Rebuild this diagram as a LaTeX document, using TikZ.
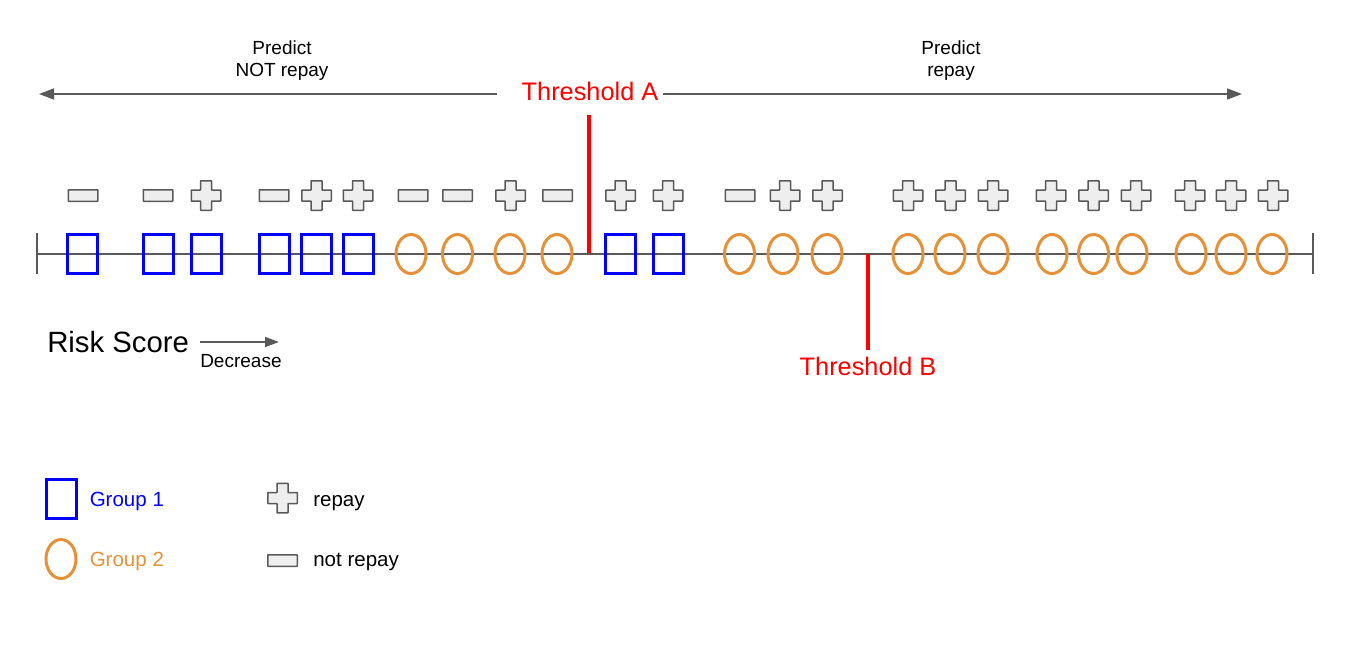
\documentclass[tikz,border=0pt]{standalone}
\usepackage{fontspec}
\setmainfont{Liberation Sans}
\usetikzlibrary{shapes.geometric,arrows.meta}
\newlength\px \setlength\px{0.75pt}
\definecolor{gline}{HTML}{595959}
\definecolor{gfill}{HTML}{EEEEEE}
\definecolor{grpblue}{HTML}{0000FF}
\definecolor{grporange}{HTML}{E69138}
\definecolor{thred}{HTML}{FF0000}
\begin{document}
\begin{tikzpicture}[x=0.75pt,y=-0.75pt,
  sqbox/.style={draw=grpblue,line width=3\px,minimum width=30\px,minimum height=39\px,inner sep=0pt},
  ovbox/.style={ellipse,draw=grporange,line width=3\px,minimum width=30\px,minimum height=39\px,inner sep=0pt},
  notrep/.style={draw=gline,fill=gfill,line width=1.5\px,minimum width=29.5\px,minimum height=11.5\px,inner sep=0pt,rounded corners=0.5\px},
  rep/.pic={\draw[draw=gline,fill=gfill,line width=1.5\px,rounded corners=0.5\px]
     (-14.75,-5.5)--(-5.5,-5.5)--(-5.5,-14.75)--(5.5,-14.75)--(5.5,-5.5)--(14.75,-5.5)
     --(14.75,5.5)--(5.5,5.5)--(5.5,14.75)--(-5.5,14.75)--(-5.5,5.5)--(-14.75,5.5)--cycle;},
  axis/.style={draw=gline,line width=2\px},
  arrowline/.style={draw=gline,line width=1.5\px,-{Triangle[length=11.25pt,width=8.25pt]}},
  thline/.style={draw=thred,line width=4\px},
  thtext/.style={text=thred,font=\fontsize{19}{23}\selectfont,inner sep=0pt},
  lbl/.style={font=\fontsize{14.25}{16.5}\selectfont,align=center,inner sep=0pt},
  legtext/.style={font=\fontsize{15.4}{18}\selectfont,inner sep=0pt,anchor=base west}
]
\useasboundingbox (0,0) rectangle (1359,649);

% axis
\coordinate (axL) at (37,254);
\coordinate (axR) at (1313,254);
\draw[axis] (axL) -- (axR);
\draw[axis] ([yshift=21\px]axL) -- ([yshift=-20\px]axL);
\draw[axis] ([yshift=21\px]axR) -- ([yshift=-20\px]axR);

% groups on the axis
\foreach \x/\k [count=\i] in {82/sqbox,158/sqbox,206/sqbox,274/sqbox,316/sqbox,358/sqbox,
   411/ovbox,457.5/ovbox,510/ovbox,557/ovbox,620.5/sqbox,668/sqbox,
   739.5/ovbox,783/ovbox,827/ovbox,908/ovbox,950/ovbox,993/ovbox,
   1052/ovbox,1093.5/ovbox,1132/ovbox,1191/ovbox,1231/ovbox,1272/ovbox}
  \node[\k] (g\i) at (\x,254) {};

% outcome symbols
\foreach \x [count=\i] in {83,158,274,413,457.5,557.5,740}
  \node[notrep] (m\i) at (\x,195.5) {};
\foreach \x [count=\i] in {206,316.5,358,510.5,620.5,668,785,827.5,908,950.5,993,1051,1093.5,1136,1190,1231,1273}
  \pic (p\i) at (\x,195.5) {rep};

% thresholds
\coordinate (tAtop) at (589,115);
\coordinate (tAbot) at (589,253);
\draw[thline] (tAtop) -- (tAbot);
\coordinate (tBtop) at (868,254);
\coordinate (tBbot) at (868,350);
\draw[thline] (tBtop) -- (tBbot);
\node[thtext,anchor=base] (thA) at (590,100.5) {Threshold A};
\node[thtext,anchor=base] (thB) at (868,375) {Threshold B};

% top arrows
\coordinate (arLs) at (497,94);
\coordinate (arL) at (39,94);
\coordinate (arRs) at (663,94);
\coordinate (arR) at (1242,94);
\draw[arrowline] (arLs) -- (arL);
\draw[arrowline] (arRs) -- (arR);
\node[lbl] (pn) at (282,61) {Predict\\NOT repay};
\node[lbl] (pr) at (951,61) {Predict\\repay};

% risk score
\node[font=\fontsize{22}{26}\selectfont,inner sep=0pt,anchor=base west] (rs) at (47,352) {Risk Score};
\coordinate (dA) at (200,342);
\coordinate (dB) at (279,342);
\draw[draw=gline,line width=1.5\px,-{Triangle[length=10.5pt,width=7.5pt]}] (dA) -- (dB);
\node[font=\fontsize{14.25}{17}\selectfont,inner sep=0pt,anchor=base west] (dec) at (200,367.7) {Decrease};

% legend
\node[sqbox] (lg1) at (61,498.5) {};
\node[legtext,text=grpblue] (lg1t) at (89.5,506.7) {Group 1};
\node[ovbox] (lg2) at (61,559) {};
\node[legtext,text=grporange] (lg2t) at (89.5,566.7) {Group 2};
\pic (lgp) at (282.5,498) {rep};
\node[legtext] (lgpt) at (313,506.7) {repay};
\node[notrep] (lgm) at (282.5,560.5) {};
\node[legtext] (lgmt) at (313,566.7) {not repay};
\end{tikzpicture}
\end{document}
